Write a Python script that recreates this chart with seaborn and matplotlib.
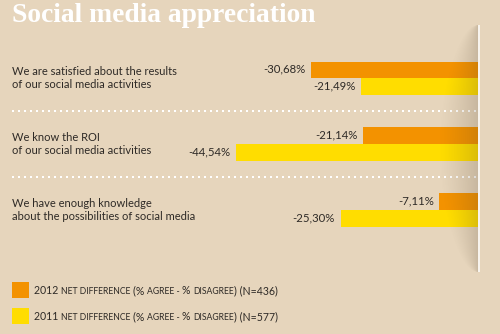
import numpy as np
import pandas as pd
import matplotlib
matplotlib.use("Agg")
import matplotlib.pyplot as plt
import seaborn as sns

# --- data -------------------------------------------------------------
statements = [
    "We are satisfied about the results\nof our social media activities",
    "We know the ROI\nof our social media activities",
    "We have enough knowledge\nabout the possibilities of social media",
]
net_2012 = [-30.68, -21.14, -7.11]
net_2011 = [-21.49, -44.54, -25.30]
series_names = ["2012", "2011"]
legend_n = {"2012": "436", "2011": "577"}

BG = "#E6D5BC"
ORANGE = "#F39200"
YELLOW = "#FFDD00"
INK = "#2E2A26"

df = pd.DataFrame({
    "statement": statements * 2,
    "year": [series_names[0]] * 3 + [series_names[1]] * 3,
    "value": net_2012 + net_2011,
})

sns.set_theme(style="white")
plt.rcParams["font.family"] = ["Lato", "DejaVu Sans"]

W, H = 500, 334
fig = plt.figure(figsize=(W / 100, H / 100), dpi=100, facecolor=BG)

# main bar axes: zero at x=478 px, bars grow leftwards
left_px, right_px = 12, 478
top_px, bot_px = 45.4, 242.9
ax = fig.add_axes([left_px / W, 1 - bot_px / H, (right_px - left_px) / W, (bot_px - top_px) / H])
ax.set_facecolor("none")

sns.barplot(data=df, x="value", y="statement", hue="year", orient="h",
            palette={series_names[0]: ORANGE, series_names[1]: YELLOW},
            width=0.506, dodge=True, legend=False, ax=ax, saturation=1,
            linewidth=0)
ax.set_xlim(-(right_px - left_px) / 5.43, 0)
ax.set_ylim(2.5, -0.5)
ax.set_xlabel("")
ax.set_ylabel("")
ax.set_xticks([])
ax.set_yticks([])
for s in ax.spines.values():
    s.set_visible(False)

# value labels
for cont in ax.containers:
    for bar in cont:
        v = bar.get_width()
        yc = bar.get_y() + bar.get_height() / 2
        txt = f"{v:.2f}%".replace(".", ",")
        ax.annotate(txt, xy=(v, yc), xytext=(-4, 0.5), textcoords="offset points",
                    ha="right", va="center", fontsize=8.2, color=INK)

# statement labels
for i, s in enumerate(statements):
    ax.text(0.0, i, s, transform=ax.get_yaxis_transform(), ha="left", va="center",
            fontsize=8.0, color=INK, linespacing=1.2)

# dotted separators between groups
for yy in (0.5, 1.5):
    ax.axhline(yy, color="white", lw=1.44, ls=(0, (1, 2)), dash_capstyle="butt")

# title
fig.text(12 / W, 1 - 16 / H, "Social media appreciation", ha="left", va="center",
         fontsize=19.8, fontweight="bold", color="white",
         family=["Liberation Serif", "DejaVu Serif"])


def legend_caption(y_px, color, year):
    """Swatch plus a caption whose words are set in small caps, chained on one baseline."""
    fig.patches.append(plt.Rectangle((12 / W, 1 - (y_px + 8.3) / H), 17 / W, 16.6 / H,
                                     transform=fig.transFigure, color=color, lw=0))
    big, small = 7.6, 6.2
    parts = [(f"{year} ", big), ("NET DIFFERENCE ", small), ("(% ", big), ("AGREE - ", small),
             ("% ", big), ("DISAGREE", small), (f") (N={legend_n[year]})", big)]
    anchor = fig.text(34 / W, 1 - (y_px + 4) / H, parts[0][0], fontsize=parts[0][1],
                      color=INK, ha="left", va="baseline")
    for txt, fs in parts[1:]:
        anchor = ax.annotate(txt, xy=(1, 0), xycoords=anchor, xytext=(0, 0),
                             textcoords="offset points", fontsize=fs, color=INK,
                             ha="left", va="bottom", annotation_clip=False)


legend_caption(290, ORANGE, "2012")
legend_caption(316, YELLOW, "2011")

# page fold shadow and white edge along the zero line
ov = fig.add_axes([0, 0, 1, 1], zorder=5)
ov.set_xlim(0, W)
ov.set_ylim(H, 0)
ov.axis("off")
ov.patch.set_alpha(0)
yy, xx = np.mgrid[0:H, 0:W] + 0.5
y0, y1 = 25, 272
t = np.clip((yy - y0) / (y1 - y0), 0, 1)
half = 40 * np.sqrt(np.clip(np.sin(np.pi * t), 0, 1))
d = 478 - xx
mask = (yy > y0) & (yy < y1) & (d > 0) & (half > 0)
a = np.where(mask, np.clip(1 - d / np.maximum(half, 1e-3), 0, 1), 0) ** 1.3 * 0.2
rgba = np.zeros((H, W, 4))
rgba[..., 0] = 0.30
rgba[..., 1] = 0.24
rgba[..., 2] = 0.16
rgba[..., 3] = a
ov.imshow(rgba, extent=(0, W, H, 0), interpolation="bilinear", aspect="auto")
ov.plot([478.5, 478.5], [y0, y1], color="white", lw=1.2, alpha=0.9, solid_capstyle="butt")

fig.savefig("out.png", dpi=100, facecolor=BG)
